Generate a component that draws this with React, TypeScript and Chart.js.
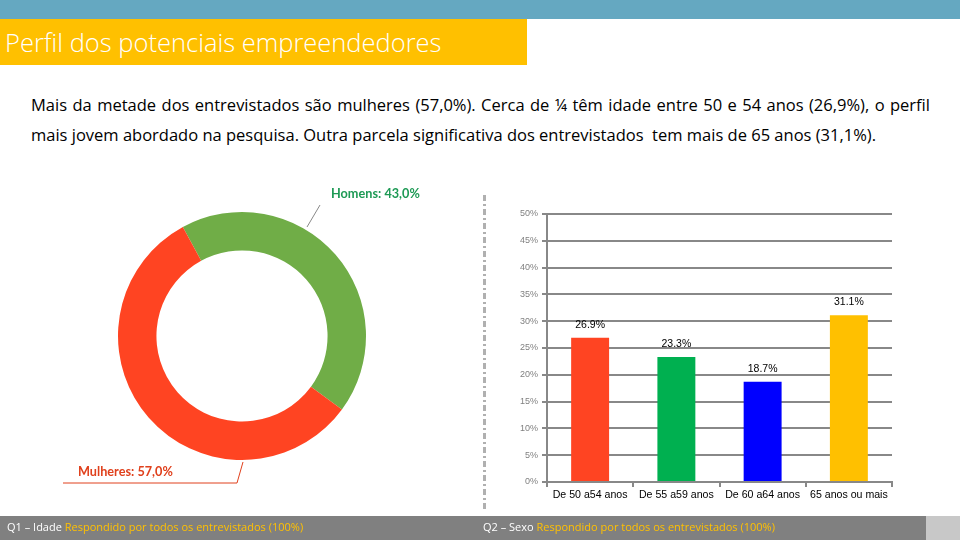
import React, { useEffect, useRef } from "react";
import { Chart, registerables } from "chart.js";

Chart.register(...registerables);

// ---- data ----
const ageCategories = ["De 50 a54 anos", "De 55 a59 anos", "De 60 a64 anos", "65 anos ou mais"];
const ageValues = [26.9, 23.3, 18.7, 31.1];
const ageColors = ["#FF4422", "#00B050", "#0000FF", "#FFC000"];
const yMax = 50;
const yStep = 5;

const sexLabels = ["Homens", "Mulheres"];
const sexValues = [43.0, 57.0];
const sexColors = ["#70AD47", "#FF4422"];

const titleText = "Perfil dos potenciais empreendedores";
const bodyLine1 =
  "Mais da metade dos entrevistados são mulheres (57,0%). Cerca de ¼ têm idade entre 50 e 54 anos (26,9%), o perfil";
const bodyLine2 =
  "mais jovem abordado na pesquisa. Outra parcela significativa dos entrevistados  tem mais de 65 anos (31,1%).";

const fmtPt = (v: number) => v.toFixed(1).replace(".", ",") + "%";

const barLabelPlugin = {
  id: "barLabels",
  afterDatasetsDraw(chart: any) {
    const ctx = chart.ctx;
    const meta = chart.getDatasetMeta(0);
    ctx.save();
    ctx.fillStyle = "#000";
    ctx.font = "10.5px 'Liberation Sans'";
    ctx.textAlign = "center";
    ctx.textBaseline = "middle";
    meta.data.forEach((el: any, i: number) => {
      const v = chart.data.datasets[0].data[i];
      ctx.fillText(v.toFixed(1) + "%", el.x, el.y - 13);
    });
    ctx.restore();
  },
};

function BarChart() {
  const ref = useRef<HTMLCanvasElement>(null);
  useEffect(() => {
    const chart = new Chart(ref.current!, {
      type: "bar",
      data: {
        labels: ageCategories,
        datasets: [
          {
            data: ageValues,
            backgroundColor: ageColors,
            barPercentage: 0.44,
            categoryPercentage: 1,
          },
        ],
      },
      options: {
        animation: false,
        responsive: false,
        maintainAspectRatio: false,
        layout: { padding: { top: 19, right: 8, left: 0, bottom: 0 } },
        plugins: { legend: { display: false }, tooltip: { enabled: false } },
        scales: {
          x: {
            grid: {
              display: true,
              drawOnChartArea: false,
              drawTicks: true,
              tickLength: 5,
              color: "#888",
              lineWidth: 2,
            },
            border: { display: true, color: "#888", width: 2 },
            ticks: {
              color: "#000",
              font: { family: "'Liberation Sans'", size: 10.6 },
              padding: 2,
              maxRotation: 0,
              autoSkip: false,
            },
            afterFit: (s: any) => {
              s.height = 25;
            },
          },
          y: {
            min: 0,
            max: yMax,
            grid: { color: "#888", lineWidth: 2, tickLength: 5, drawTicks: true },
            border: { display: true, color: "#888", width: 2 },
            ticks: {
              stepSize: yStep,
              color: "#808080",
              font: { family: "'Liberation Sans'", size: 9 },
              padding: 4,
              callback: (v: any) => v + "%",
            },
            afterFit: (s: any) => {
              s.width = 57;
            },
          },
        },
      },
      plugins: [barLabelPlugin],
    });
    return () => chart.destroy();
  }, []);
  return (
    <canvas
      ref={ref}
      width={410}
      height={312}
      style={{ position: "absolute", left: 490, top: 195, width: 410, height: 312 }}
    />
  );
}

function DonutChart() {
  const ref = useRef<HTMLCanvasElement>(null);
  useEffect(() => {
    const chart = new Chart(ref.current!, {
      type: "doughnut",
      data: {
        labels: sexLabels,
        datasets: [
          {
            data: sexValues,
            backgroundColor: sexColors,
            borderWidth: 0,
            hoverOffset: 0,
          },
        ],
      },
      options: {
        animation: false,
        responsive: false,
        maintainAspectRatio: false,
        rotation: -28.5,
        cutout: "69%",
        layout: { padding: { left: 78, right: 114, top: 32, bottom: 40 } },
        plugins: { legend: { display: false }, tooltip: { enabled: false } },
      },
    });
    return () => chart.destroy();
  }, []);
  return (
    <canvas
      ref={ref}
      width={440}
      height={320}
      style={{ position: "absolute", left: 40, top: 180, width: 440, height: 320 }}
    />
  );
}

export default function App() {
  const bodyStyle: React.CSSProperties = {
    position: "absolute",
    left: 31,
    width: 899,
    fontFamily: "'Open Sans', sans-serif",
    fontSize: 16.5,
    color: "#000",
    whiteSpace: "pre",
    lineHeight: "22px",
  };
  const footStyle: React.CSSProperties = {
    position: "absolute",
    top: 519,
    fontFamily: "'Open Sans', sans-serif",
    fontSize: 11,
    lineHeight: "16px",
    whiteSpace: "nowrap",
    color: "#fff",
  };
  const donutLabel: React.CSSProperties = {
    position: "absolute",
    fontFamily: "Lato, sans-serif",
    fontWeight: 700,
    fontSize: 12.7,
    lineHeight: "16px",
    whiteSpace: "nowrap",
  };
  return (
    <div
      style={{
        position: "absolute",
        left: 0,
        top: 0,
        width: 960,
        height: 540,
        background: "#fff",
        overflow: "hidden",
      }}
    >
      <div style={{ position: "absolute", left: 0, top: 0, width: 960, height: 19, background: "#65A8C1" }} />
      <div
        style={{
          position: "absolute",
          left: 0,
          top: 19,
          width: 527,
          height: 46,
          background: "#FFC000",
        }}
      />
      <div
        style={{
          position: "absolute",
          left: 5,
          top: 26,
          fontFamily: "'Open Sans', sans-serif",
          fontWeight: 300,
          fontSize: 25.5,
          lineHeight: "32px",
          color: "#fff",
          whiteSpace: "nowrap",
        }}
      >
        {titleText}
      </div>
      <div style={{ ...bodyStyle, top: 94, textAlign: "justify", textAlignLast: "justify" as any, whiteSpace: "normal" }}>
        {bodyLine1}
      </div>
      <div style={{ ...bodyStyle, top: 124 }}>{bodyLine2}</div>

      <DonutChart />
      <BarChart />

      <svg
        width={960}
        height={540}
        style={{ position: "absolute", left: 0, top: 0, pointerEvents: "none" }}
      >
        <line x1={320} y1={205} x2={307} y2={227} stroke="#888" strokeWidth={1} />
        <polyline points="243,462 237,483 63,483" fill="none" stroke="#E0401C" strokeWidth={1} />
        <line x1={484.5} y1={195} x2={484.5} y2={512} stroke="#b0b0b0" strokeWidth={3} strokeDasharray="6 3 2 3" />
      </svg>

      <div style={{ ...donutLabel, left: 331, top: 185, color: "#1E9A55" }}>
        {sexLabels[0]}: {fmtPt(sexValues[0])}
      </div>
      <div style={{ ...donutLabel, left: 78, top: 463, color: "#E0401C" }}>
        {sexLabels[1]}: {fmtPt(sexValues[1])}
      </div>

      <div style={{ position: "absolute", left: 0, top: 516, width: 926, height: 24, background: "#808080" }} />
      <div style={{ position: "absolute", left: 926, top: 516, width: 34, height: 24, background: "#C8C8C8" }} />
      <div style={{ ...footStyle, left: 7 }}>
        Q1 – Idade <span style={{ color: "#FFC000" }}>Respondido por todos os entrevistados (100%)</span>
      </div>
      <div style={{ ...footStyle, left: 483 }}>
        Q2 – Sexo <span style={{ color: "#FFC000" }}>Respondido por todos os entrevistados (100%)</span>
      </div>
    </div>
  );
}
